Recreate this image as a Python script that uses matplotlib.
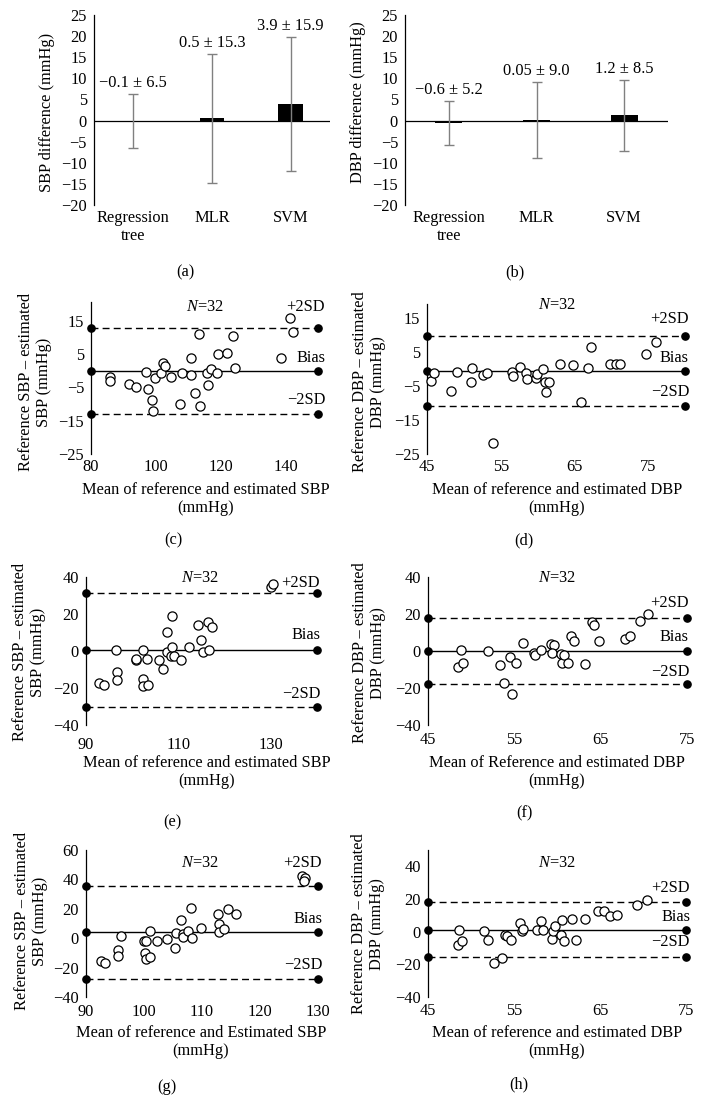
import numpy as np
import matplotlib
matplotlib.use("Agg")
import matplotlib.pyplot as plt

plt.rcParams['font.family'] = ['Liberation Serif', 'DejaVu Serif']
plt.rcParams['mathtext.fontset'] = 'custom'
plt.rcParams['mathtext.it'] = 'Liberation Serif:italic'
plt.rcParams['mathtext.rm'] = 'Liberation Serif'
plt.rcParams['axes.unicode_minus'] = True

# ---------------- data ----------------
methods = ["Regression\ntree", "MLR", "SVM"]
sbp_bias = [-0.1, 0.5, 3.9]
sbp_sd = [6.5, 15.3, 15.9]
dbp_bias = [-0.6, 0.05, 1.2]
dbp_sd = [5.2, 9.0, 8.5]
n_subjects = 32

# (c) regression tree SBP
c_x = [85.8, 86.0, 91.6, 94.0, 97.0, 97.6, 98.8, 99.1, 99.6, 101.7, 102.1, 102.7, 104.7,
       107.3, 108.1, 110.7, 110.9, 112.2, 113.3, 113.5, 115.8, 116.0, 117.0, 118.9, 119.2,
       121.8, 123.7, 124.3, 138.6, 141.5, 142.2]
c_y = [-1.8, -3.1, -4.0, -5.0, -0.4, -5.4, -8.8, -12.1, -2.3, -0.8, 2.2, 1.4, -2.0,
       -10.1, -0.8, 3.7, -1.3, -6.8, 11.0, -10.5, -0.6, -4.3, 0.4, -0.8, 4.9,
       5.2, 10.4, 0.7, 3.7, 15.7, 11.7]
# (d) regression tree DBP
d_x = [45.5, 45.9, 48.2, 49.1, 51.0, 51.1, 52.6, 53.1, 54.0, 56.5, 56.7, 57.6, 58.4, 58.5,
       59.8, 59.9, 60.8, 61.0, 61.5, 61.1, 63.0, 64.8, 65.9, 66.8, 67.3, 69.8, 70.7, 71.2,
       74.7, 76.0]
d_y = [-3.6, -1.2, -6.5, -0.9, -3.8, 0.2, -1.9, -1.2, -21.9, -0.8, -2.1, 0.6, -1.3, -2.9,
       -2.6, -1.4, -0.1, -3.8, -3.8, -6.7, 1.6, 1.2, -9.7, 0.4, 6.5, 1.6, 1.4, 1.4,
       4.5, 8.0]
# (e) MLR SBP
e_x = [92.9, 93.9, 96.5, 96.8, 96.8, 100.8, 100.9, 102.3, 102.3, 102.4, 103.2, 103.4, 105.8,
       106.6, 107.5, 107.6, 108.4, 108.7, 108.7, 109.1, 110.5, 112.3, 114.3, 114.9, 115.4,
       116.5, 116.6, 117.3, 130.0, 130.5]
e_y = [-17.5, -18.4, 0.4, -11.4, -15.7, -5.0, -4.3, -15.0, -18.9, 0.7, -4.3, -18.4, -4.6,
       -9.5, 10.2, -0.7, -2.5, 19.1, 2.1, -2.5, -4.6, 2.1, 13.8, 6.1, -0.7,
       15.9, 0.7, 13.2, 34.6, 36.4]
# (f) MLR DBP
f_x = [48.5, 48.8, 49.0, 51.9, 53.3, 53.8, 54.5, 54.7, 55.2, 56.0, 57.3, 57.4, 58.1, 59.2,
       59.6, 59.4, 60.4, 60.5, 60.8, 61.2, 61.6, 61.9, 63.2, 64.0, 64.2, 64.8, 67.8, 68.4,
       69.6, 70.5]
f_y = [-8.6, 0.4, -6.3, -0.2, -7.4, -17.1, -3.2, -23.4, -6.3, 4.5, -0.9, -2.3, 0.4, 4.0,
       3.4, -0.9, -1.4, -6.3, -2.3, -6.3, 8.1, 5.2, -6.8, 15.7, 13.9, 5.2, 6.3, 7.9,
       16.0, 20.2]
# (g) SVM SBP
g_x = [92.5, 93.3, 95.6, 95.6, 96.1, 100.0, 100.3, 100.2, 100.3, 101.1, 101.0, 102.2, 103.9,
       105.3, 105.6, 106.3, 106.7, 106.8, 107.6, 108.2, 108.1, 109.9, 112.8, 113.0, 113.0,
       113.8, 114.5, 115.9, 127.2, 127.8, 127.6]
g_y = [-15.8, -16.9, -8.3, -12.4, 1.6, -2.2, -1.8, -10.1, -14.2, -12.8, 4.6, -1.8, -0.6,
       -6.7, 3.4, 12.5, 3.0, 0.7, 5.0, 0.1, 20.4, 6.8, 16.6, 9.8, 3.9,
       6.2, 19.7, 16.3, 42.4, 40.8, 39.0]
# (h) SVM DBP
h_x = [48.5, 48.6, 48.9, 51.5, 52.0, 52.7, 53.6, 54.0, 54.2, 54.7, 55.7, 55.9, 56.1, 57.7,
       58.1, 58.4, 59.4, 59.5, 59.8, 60.5, 60.6, 60.8, 61.8, 62.2, 63.2, 64.8, 65.5, 66.2,
       67.0, 69.3, 70.5]
h_y = [-8.4, 0.8, -6.0, 0.6, -5.0, -18.9, -16.2, -1.9, -2.9, -5.0, 5.3, 0.6, 1.6, 0.8,
       6.3, 0.8, -4.3, 0.2, 3.2, -1.9, 7.3, -5.6, 8.0, -5.0, 8.0, 12.5, 12.5, 9.4,
       10.4, 16.2, 19.6]

# ---------------- layout helpers ----------------
W, H = 704, 1117
fig = plt.figure(figsize=(W / 100, H / 100), dpi=100)
FS = 11.8


def rect(l, t, r, b):
    return [l / W, 1 - b / H, (r - l) / W, (b - t) / H]


def ftext(x, y, s, **kw):
    kw.setdefault('fontsize', FS)
    fig.text(x / W, 1 - y / H, s, **kw)


def pt(px):
    return px * 72 / 100


def fmt(v):
    return str(v).replace('-', '\u2212')


def bar_panel(r, means, sds, ylabel, ylab_xy, cap, cap_xy):
    ax = fig.add_axes(rect(*r))
    x = np.arange(len(methods))
    ax.bar(x, means, width=0.31, color='black', zorder=3)
    ax.errorbar(x, means, yerr=sds, fmt='none', ecolor='#808080', elinewidth=1.0,
                capsize=3.5, capthick=1.0, zorder=4)
    ax.axhline(0, color='black', lw=0.9, zorder=2)
    ax.set_xlim(-0.5, 2.5)
    ax.set_ylim(-20, 25)
    ax.set_yticks(np.arange(-20, 26, 5))
    ax.set_xticks(x)
    ax.set_xticklabels(methods, linespacing=1.15)
    for s in ['top', 'right', 'bottom']:
        ax.spines[s].set_visible(False)
    ax.spines['left'].set_linewidth(0.9)
    ax.tick_params(axis='both', length=0, labelsize=FS)
    ax.tick_params(axis='y', pad=pt(7))
    ax.tick_params(axis='x', pad=pt(5))
    for xi, m, s in zip(x, means, sds):
        ax.annotate(f"{fmt(m)} \u00b1 {fmt(s)}", xy=(xi, m + s), xytext=(0, pt(11)),
                    textcoords='offset points', ha='center', va='center', fontsize=FS)
    ftext(ylab_xy[0], ylab_xy[1], ylabel, rotation=90, ha='center', va='center')
    ftext(cap_xy[0], cap_xy[1], cap, ha='center', va='center')
    return ax


def ba_panel(r, xs, ys, bias, sd, xlim, xticks, ylim, yticks, ylabel, ylab_xy,
             xlabel, xlab_xy, cap, cap_xy, n_xy, lab_dx, lab_dy, xpad):
    ax = fig.add_axes(rect(*r))
    ax.set_xlim(xlim)
    ax.set_ylim(ylim)
    lo, hi = bias - 2 * sd, bias + 2 * sd
    ax.plot(xlim, [bias, bias], color='black', lw=1.0, marker='o', ms=5.2,
            clip_on=False, zorder=2)
    for lv in (hi, lo):
        ax.plot(xlim, [lv, lv], color='black', lw=1.0, ls=(0, (5, 3)), marker='o',
                ms=5.2, clip_on=False, zorder=2)
    ax.plot(xs, ys, ls='none', marker='o', ms=6.6, mfc='white', mec='black', mew=0.9,
            zorder=3, clip_on=False)
    ax.set_xticks(xticks)
    ax.set_yticks(yticks)
    for s in ['top', 'right', 'bottom']:
        ax.spines[s].set_visible(False)
    ax.spines['left'].set_linewidth(0.9)
    ax.tick_params(axis='both', length=0, labelsize=FS)
    ax.tick_params(axis='y', pad=pt(7))
    ax.tick_params(axis='x', pad=pt(xpad))
    for txt, lv, dy in zip(["+2SD", "Bias", "\u22122SD"], [hi, bias, lo], lab_dy):
        ax.annotate(txt, xy=(xlim[1], lv), xytext=(pt(lab_dx), pt(dy)),
                    textcoords='offset points', ha='right', va='center', fontsize=FS,
                    annotation_clip=False)
    ftext(n_xy[0], n_xy[1], f"$N$={n_subjects}", ha='center', va='center')
    ftext(ylab_xy[0], ylab_xy[1], ylabel, rotation=90, ha='center', va='center',
          multialignment='center', linespacing=1.15)
    ftext(xlab_xy[0], xlab_xy[1], xlabel, ha='center', va='center',
          multialignment='center', linespacing=1.1)
    ftext(cap_xy[0], cap_xy[1], cap, ha='center', va='center')
    return ax


# (a), (b)
bar_panel((94, 15, 330, 205), sbp_bias, sbp_sd, "SBP difference (mmHg)", (47, 112),
          "(a)", (185, 272))
bar_panel((405, 15, 668, 205), dbp_bias, dbp_sd, "DBP difference (mmHg)", (358, 102),
          "(b)", (515, 272))

sbp_ylab = "Reference SBP \u2013 estimated\nSBP (mmHg)"
dbp_ylab = "Reference DBP \u2013 estimated\nDBP (mmHg)"

# (c)
ba_panel((91, 302, 318, 454), c_x, c_y, sbp_bias[0], sbp_sd[0], (80, 150),
         [80, 100, 120, 140], (-25, 20.6), [-25, -15, -5, 5, 15], sbp_ylab, (35, 382),
         "Mean of reference and estimated SBP\n(mmHg)", (206, 499), "(c)", (173, 540),
         (205, 307), 7, (21, 13, 14), 5)
# (d)
ba_panel((427, 304, 685, 454), d_x, d_y, dbp_bias[0], dbp_sd[0], (45, 80),
         [45, 55, 65, 75], (-25, 19.1), [-25, -15, -5, 5, 15], dbp_ylab, (369, 382),
         "Mean of reference and estimated DBP\n(mmHg)", (557, 499), "(d)", (524, 540),
         (557, 305), 4, (17, 13, 14), 5)
# (e)
ba_panel((86, 577, 317, 725), e_x, e_y, sbp_bias[1], sbp_sd[1], (90, 140),
         [90, 110, 130], (-40, 40), [-40, -20, 0, 20, 40], sbp_ylab, (29, 652),
         "Mean of reference and estimated SBP\n(mmHg)", (207, 772), "(e)", (172, 822),
         (200, 578), 3, (10, 15, 13), 12)
# (f)
ba_panel((428, 577, 687, 725), f_x, f_y, dbp_bias[1], dbp_sd[1], (45, 75),
         [45, 55, 65, 75], (-40, 40), [-40, -20, 0, 20, 40], dbp_ylab, (369, 653),
         "Mean of Reference and estimated DBP\n(mmHg)", (557, 772), "(f)", (524, 813),
         (557, 578), 2, (15, 14, 12), 7)
# (g)
ba_panel((86, 850, 318, 997), g_x, g_y, sbp_bias[2], sbp_sd[2], (90, 130),
         [90, 100, 110, 120, 130], (-40, 60), [-40, -20, 0, 20, 40, 60], sbp_ylab,
         (31, 921), "Mean of reference and Estimated SBP\n(mmHg)", (201, 1042), "(g)",
         (167, 1087), (200, 863), 4, (23, 13, 14), 7)
# (h)
ba_panel((428, 850, 686, 997), h_x, h_y, dbp_bias[2], dbp_sd[2], (45, 75),
         [45, 55, 65, 75], (-40, 50), [-40, -20, 0, 20, 40], dbp_ylab, (368, 924),
         "Mean of reference and estimated DBP\n(mmHg)", (557, 1042), "(h)", (519, 1084),
         (557, 863), 4, (14, 13, 15), 6)

fig.savefig("out.png", dpi=100)
